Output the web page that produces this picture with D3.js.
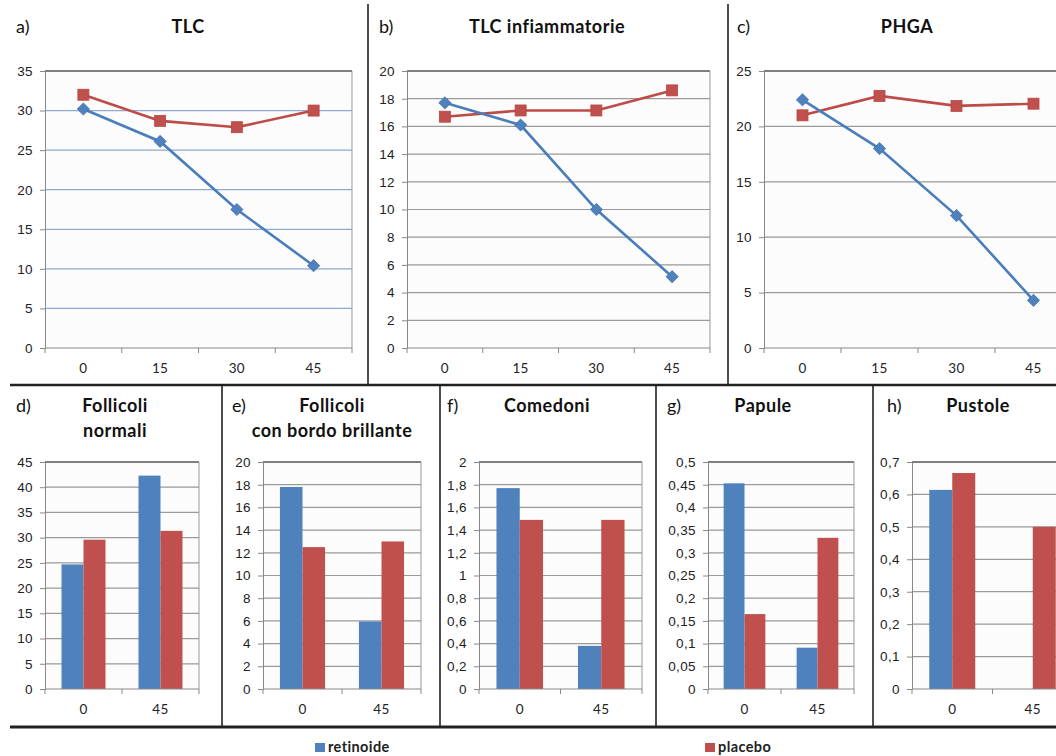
<!DOCTYPE html>
<html>
<head>
    <meta charset="utf-8">
    <title>TLC, PHGA e lesioni</title>
    <script src="https://cdn.jsdelivr.net/npm/d3@7/dist/d3.min.js"></script>
    <style>
        body { margin: 0; background: #fff; }
        svg { display: block; font-family: Lato, "Open Sans", sans-serif; }
    </style>
</head>
<body>
<svg id="visSvg"></svg>
<script>
    // Series names and categories (giorni)
    const seriesNames = ["retinoide", "placebo"];
    const days4 = ["0", "15", "30", "45"];
    const days2 = ["0", "45"];

    // a) TLC
    const tlcRetinoide = [30.2, 26.1, 17.5, 10.4];
    const tlcPlacebo = [32.0, 28.7, 27.9, 30.0];
    // b) TLC infiammatorie
    const tlcInfRetinoide = [17.7, 16.1, 10.0, 5.15];
    const tlcInfPlacebo = [16.7, 17.15, 17.15, 18.6];
    // c) PHGA
    const phgaRetinoide = [22.4, 18.0, 11.95, 4.3];
    const phgaPlacebo = [21.0, 22.75, 21.85, 22.05];
    // d) Follicoli normali
    const follNormRetinoide = [24.7, 42.3];
    const follNormPlacebo = [29.6, 31.35];
    // e) Follicoli con bordo brillante
    const follBordoRetinoide = [17.8, 5.95];
    const follBordoPlacebo = [12.5, 13.0];
    // f) Comedoni
    const comedoniRetinoide = [1.77, 0.38];
    const comedoniPlacebo = [1.49, 1.49];
    // g) Papule
    const papuleRetinoide = [0.453, 0.091];
    const papulePlacebo = [0.165, 0.333];
    // h) Pustole
    const pustoleRetinoide = [0.614, 0];
    const pustolePlacebo = [0.666, 0.5];

    // y axis ranges [max, step]
    const yTicksA = [35, 5], yTicksB = [20, 2], yTicksC = [25, 5];
    const yTicksD = [45, 5], yTicksE = [20, 2], yTicksF = [2, 0.2];
    const yTicksG = [0.5, 0.05], yTicksH = [0.7, 0.1];

    const width = 1056, height = 756;
    const blue = "#4f81bd", red = "#c0504d";
    const lineBlue = "#4a7ebb", lineRed = "#be4b48";
    const it = d3.formatLocale({ decimal: ",", thousands: ".", grouping: [3], currency: ["€", ""] });
    const fmt = it.format("~g");

    const svg = d3.select("#visSvg").attr("width", width).attr("height", height);

    function tickList(t) {
        return d3.range(0, t[0] + t[1] / 2, t[1]).map(v => +v.toFixed(4));
    }

    // Common frame: gridlines, border, axes
    function frame(p) {
        let g = svg.append("g");
        let x = d3.scaleBand().domain(p.cats).range([p.x0, p.x1]);
        let y = d3.scaleLinear().domain([0, p.ticks[0]]).range([p.y1, p.y0]);
        let ticks = tickList(p.ticks);

        g.append("rect")
            .attr("x", p.x0).attr("y", p.y0)
            .attr("width", p.x1 - p.x0).attr("height", p.y1 - p.y0)
            .attr("fill", "#fcfcfc");

        g.append("g").selectAll("line")
            .data(ticks.slice(1, -1))
            .join("line")
            .attr("x1", p.x0).attr("x2", p.x1)
            .attr("y1", d => y(d)).attr("y2", d => y(d))
            .attr("stroke", p.grid).attr("stroke-width", 1.2);

        // plot border
        g.append("line").attr("x1", p.x0).attr("x2", p.x1).attr("y1", p.y0).attr("y2", p.y0)
            .attr("stroke", "#555").attr("stroke-width", 1.6);
        g.append("line").attr("x1", p.x1).attr("x2", p.x1).attr("y1", p.y0).attr("y2", p.y1)
            .attr("stroke", "#999").attr("stroke-width", 1);

        let yAxis = d3.axisLeft(y).tickValues(ticks).tickFormat(fmt).tickSize(5).tickSizeOuter(0);
        let ya = g.append("g").attr("transform", `translate(${p.x0},0)`).call(yAxis);
        ya.select(".domain").attr("stroke", "#888");
        ya.selectAll(".tick line").attr("stroke", "#888");
        ya.selectAll("text").attr("x", -12).attr("fill", "#222")
            .style("font-size", "13.5px").style("letter-spacing", "0.4px");

        return { g, x, y };
    }

    function xAxisBottom(p, f) {
        let xa = f.g.append("g").attr("transform", `translate(0,${p.y1})`);
        xa.append("line").attr("x1", p.x0).attr("x2", p.x1).attr("stroke", "#888");
        let bounds = p.cats.map(c => f.x(c)).concat([p.x1]);
        xa.selectAll("line.tk").data(bounds).join("line").attr("class", "tk")
            .attr("x1", d => d).attr("x2", d => d).attr("y1", 0).attr("y2", 5).attr("stroke", "#888");
        xa.selectAll("text").data(p.cats).join("text")
            .attr("x", d => f.x(d) + f.x.bandwidth() / 2).attr("y", p.labelY - p.y1)
            .attr("text-anchor", "middle").attr("fill", "#222")
            .style("font-size", "13.5px").style("letter-spacing", "0.4px")
            .text(d => d);
    }

    function titles(p) {
        svg.append("text").attr("x", p.lx).attr("y", p.ty).style("font-size", "18px").attr("fill", "#111").text(p.letter);
        p.title.forEach((t, i) => {
            svg.append("text").attr("x", p.tx).attr("y", p.ty + i * 25).attr("text-anchor", "middle")
                .style("font-size", "18px").style("font-weight", "bold").style("letter-spacing", "0.5px")
                .attr("fill", "#111").text(t);
        });
    }

    function linePanel(p) {
        titles(p);
        let f = frame(p);
        xAxisBottom(p, f);
        let cx = c => f.x(c) + f.x.bandwidth() / 2;
        let line = d3.line().x((d, i) => cx(p.cats[i])).y(d => f.y(d));
        // placebo drawn under retinoide
        f.g.append("path").datum(p.b).attr("d", line).attr("fill", "none")
            .attr("stroke", lineRed).attr("stroke-width", 2.6);
        f.g.append("path").datum(p.a).attr("d", line).attr("fill", "none")
            .attr("stroke", lineBlue).attr("stroke-width", 2.6);
        f.g.append("g").selectAll("rect").data(p.b).join("rect")
            .attr("x", (d, i) => cx(p.cats[i]) - 5.5).attr("y", d => f.y(d) - 5.5)
            .attr("width", 11).attr("height", 11).attr("fill", red).attr("stroke", "#b84744").attr("stroke-width", 0.8);
        f.g.append("g").selectAll("path").data(p.a).join("path")
            .attr("d", d3.symbol(d3.symbolDiamond2, 95))
            .attr("transform", (d, i) => `translate(${cx(p.cats[i])},${f.y(d)})`)
            .attr("fill", blue).attr("stroke", "#3f70aa").attr("stroke-width", 0.8);
    }

    function barPanel(p) {
        titles(p);
        let f = frame(p);
        // gap between clusters is 150% of a bar width
        let inner = d3.scaleBand().domain(seriesNames).range([0, f.x.bandwidth()]).paddingInner(0).paddingOuter(0.75);
        let rows = p.cats.map((c, i) => ({ c, v: [p.a[i], p.b[i]] }));
        f.g.append("g").selectAll("g").data(rows).join("g")
            .attr("transform", d => `translate(${f.x(d.c)},0)`)
            .selectAll("rect").data(d => d.v.map((v, k) => ({ v, k })))
            .join("rect")
            .attr("x", d => inner(seriesNames[d.k]))
            .attr("width", inner.bandwidth())
            .attr("y", d => f.y(d.v))
            .attr("height", d => f.y(0) - f.y(d.v))
            .attr("fill", d => d.k === 0 ? blue : red);
        xAxisBottom(p, f);
    }

    const topRow = { y0: 71, y1: 348, labelY: 373, ty: 33, grid: "#9a9a9a" };
    const bottomRow = { y0: 462, y1: 689, labelY: 714, ty: 412, grid: "#9a9a9a" };

    linePanel(Object.assign({}, topRow, { letter: "a)", lx: 16, tx: 188, title: ["TLC"],
        x0: 45, x1: 352, cats: days4, ticks: yTicksA, a: tlcRetinoide, b: tlcPlacebo, grid: "#8faad2" }));
    linePanel(Object.assign({}, topRow, { letter: "b)", lx: 379, tx: 547, title: ["TLC infiammatorie"],
        x0: 407, x1: 710, cats: days4, ticks: yTicksB, a: tlcInfRetinoide, b: tlcInfPlacebo }));
    linePanel(Object.assign({}, topRow, { letter: "c)", lx: 737, tx: 907, title: ["PHGA"],
        x0: 764, x1: 1072, cats: days4, ticks: yTicksC, a: phgaRetinoide, b: phgaPlacebo }));

    barPanel(Object.assign({}, bottomRow, { letter: "d)", lx: 16, tx: 115, title: ["Follicoli", "normali"],
        x0: 45, x1: 199, cats: days2, ticks: yTicksD, a: follNormRetinoide, b: follNormPlacebo }));
    barPanel(Object.assign({}, bottomRow, { letter: "e)", lx: 232, tx: 332, title: ["Follicoli", "con bordo brillante"],
        x0: 263, x1: 421, cats: days2, ticks: yTicksE, a: follBordoRetinoide, b: follBordoPlacebo }));
    barPanel(Object.assign({}, bottomRow, { letter: "f)", lx: 447, tx: 547, title: ["Comedoni"],
        x0: 479, x1: 642, cats: days2, ticks: yTicksF, a: comedoniRetinoide, b: comedoniPlacebo }));
    barPanel(Object.assign({}, bottomRow, { letter: "g)", lx: 667, tx: 763, title: ["Papule"],
        x0: 708, x1: 854, cats: days2, ticks: yTicksG, a: papuleRetinoide, b: papulePlacebo }));
    barPanel(Object.assign({}, bottomRow, { letter: "h)", lx: 887, tx: 978, title: ["Pustole"],
        x0: 912, x1: 1073, cats: days2, ticks: yTicksH, a: pustoleRetinoide, b: pustolePlacebo }));

    // Panel separators
    const sep = svg.append("g").attr("stroke", "#222");
    sep.append("line").attr("x1", 10).attr("x2", width).attr("y1", 385).attr("y2", 385).attr("stroke-width", 2.5);
    sep.append("line").attr("x1", 10).attr("x2", width).attr("y1", 727).attr("y2", 727).attr("stroke-width", 3);
    [368, 728].forEach(x => sep.append("line").attr("x1", x).attr("x2", x).attr("y1", 4).attr("y2", 385).attr("stroke-width", 1.6));
    [222, 440, 656, 873].forEach(x => sep.append("line").attr("x1", x).attr("x2", x).attr("y1", 385).attr("y2", 727).attr("stroke-width", 1.6));

    // Legend
    const legend = svg.append("g").style("font-size", "14.5px").style("font-weight", "bold").style("letter-spacing", "0.4px");
    [[315, blue], [705, red]].forEach((d, i) => {
        legend.append("rect").attr("x", d[0]).attr("y", 743).attr("width", 10).attr("height", 9).attr("fill", d[1]);
        legend.append("text").attr("x", d[0] + 13).attr("y", 752).attr("fill", "#222").text(seriesNames[i]);
    });
</script>
</body>
</html>
